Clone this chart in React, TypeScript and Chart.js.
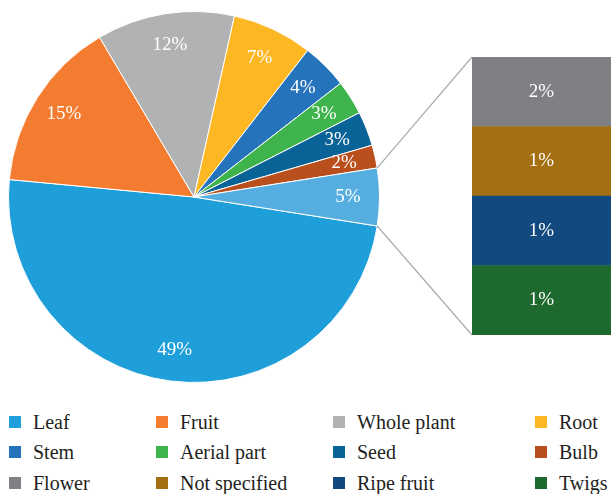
import React, { useEffect, useRef } from "react";
import { Chart, registerables } from "chart.js";

Chart.register(...registerables);

// ---- Data ----
const pieLabels = ["Leaf", "Fruit", "Whole plant", "Root", "Stem", "Aerial part", "Seed", "Bulb", "Other"];
const pieValues = [49, 15, 12, 7, 4, 3, 3, 2, 5];
const pieColors = ["#1f9fd9", "#f47c30", "#b1b2b4", "#fdb723", "#2573bb", "#3fb44c", "#0a6397", "#b84f1c", "#56aee0"];

// Bar of pie (top to bottom)
const barLabels = ["Flower", "Not specified", "Ripe fruit", "Twigs"];
const barValues = [1.25, 1.25, 1.25, 1.25];
const barValueLabels = ["2%", "1%", "1%", "1%"];
const barColors = ["#7f8083", "#a36f10", "#124a80", "#1e6a2e"];

const legendLabels = [
  "Leaf", "Fruit", "Whole plant", "Root",
  "Stem", "Aerial part", "Seed", "Bulb",
  "Flower", "Not specified", "Ripe fruit", "Twigs",
];
const legendColors = [
  "#1f9fd9", "#f47c30", "#b1b2b4", "#fdb723",
  "#2573bb", "#3fb44c", "#0a6397", "#b84f1c",
  "#7f8083", "#a36f10", "#124a80", "#1e6a2e",
];

const FONT = "'Liberation Serif', 'Times New Roman', serif";
const W = 611;
const H = 398;

export default function App() {
  const pieRef = useRef<HTMLCanvasElement | null>(null);
  const barRef = useRef<HTMLCanvasElement | null>(null);

  useEffect(() => {
    if (!pieRef.current || !barRef.current) return;
    const total = pieValues.reduce((a, b) => a + b, 0);
    const otherVal = pieValues[pieValues.length - 1];
    const rotation = 90 + (otherVal / total) * 180;

    const pieLabelPlugin = {
      id: "pieLabels",
      afterDatasetsDraw(chart: any) {
        const ctx = chart.ctx;
        const meta = chart.getDatasetMeta(0);
        ctx.save();
        ctx.font = `19px ${FONT}`;
        ctx.fillStyle = "#ffffff";
        ctx.textAlign = "center";
        ctx.textBaseline = "middle";
        meta.data.forEach((arc: any, i: number) => {
          const p = arc.getProps(["x", "y", "startAngle", "endAngle", "outerRadius"], true);
          const mid = (p.startAngle + p.endAngle) / 2;
          const r = p.outerRadius * 0.83;
          ctx.fillText(`${pieValues[i]}%`, p.x + Math.cos(mid) * r, p.y + Math.sin(mid) * r);
        });
        ctx.restore();
      },
    };

    const pie = new Chart(pieRef.current, {
      type: "pie",
      data: {
        labels: pieLabels,
        datasets: [
          {
            data: pieValues,
            backgroundColor: pieColors,
            borderColor: "#ffffff",
            borderWidth: 1,
          },
        ],
      },
      options: {
        animation: false,
        responsive: false,
        maintainAspectRatio: false,
        rotation,
        layout: { padding: { left: 8, top: 11, right: W - 380, bottom: H - 383 } },
        plugins: { legend: { display: false }, tooltip: { enabled: false } },
      },
      plugins: [pieLabelPlugin],
    });

    const barLabelPlugin = {
      id: "barLabels",
      afterDatasetsDraw(chart: any) {
        const ctx = chart.ctx;
        ctx.save();
        ctx.font = `19px ${FONT}`;
        ctx.fillStyle = "#ffffff";
        ctx.textAlign = "center";
        ctx.textBaseline = "middle";
        chart.data.datasets.forEach((ds: any, di: number) => {
          const bar = chart.getDatasetMeta(di).data[0];
          const p = bar.getProps(["x", "y", "base"], true);
          ctx.fillText(ds.valueLabel, p.x, (p.y + p.base) / 2);
        });
        ctx.restore();
      },
    };

    const connectorPlugin = {
      id: "connectors",
      afterDatasetsDraw(chart: any) {
        const ctx = chart.ctx;
        const pm = pie.getDatasetMeta(0);
        const arc: any = pm.data[pm.data.length - 1];
        const a = arc.getProps(["x", "y", "startAngle", "endAngle", "outerRadius"], true);
        const n = chart.data.datasets.length;
        const bottomBar: any = chart.getDatasetMeta(0).data[0];
        const topBar: any = chart.getDatasetMeta(n - 1).data[0];
        const tb = topBar.getProps(["x", "y", "width"], true);
        const bb = bottomBar.getProps(["x", "base", "width"], true);
        ctx.save();
        ctx.strokeStyle = "#ababab";
        ctx.lineWidth = 1.2;
        ctx.beginPath();
        ctx.moveTo(a.x + Math.cos(a.startAngle) * a.outerRadius, a.y + Math.sin(a.startAngle) * a.outerRadius);
        ctx.lineTo(tb.x - tb.width / 2, tb.y);
        ctx.moveTo(a.x + Math.cos(a.endAngle) * a.outerRadius, a.y + Math.sin(a.endAngle) * a.outerRadius);
        ctx.lineTo(bb.x - bb.width / 2, bb.base);
        ctx.stroke();
        ctx.restore();
      },
    };

    const barDatasets = barLabels
      .map((label, i) => ({
        label,
        data: [barValues[i]],
        backgroundColor: barColors[i],
        borderWidth: 0,
        barPercentage: 1,
        categoryPercentage: 1,
        valueLabel: barValueLabels[i],
      }))
      .reverse();
    const barTotal = barValues.reduce((a, b) => a + b, 0);

    const bar = new Chart(barRef.current, {
      type: "bar",
      data: { labels: ["Other"], datasets: barDatasets as any },
      options: {
        animation: false,
        responsive: false,
        maintainAspectRatio: false,
        layout: { padding: { left: 472, top: 57, right: 0, bottom: H - 335 } },
        scales: {
          x: { stacked: true, display: false },
          y: { stacked: true, display: false, min: 0, max: barTotal },
        },
        plugins: { legend: { display: false }, tooltip: { enabled: false } },
      },
      plugins: [barLabelPlugin, connectorPlugin],
    });

    return () => {
      bar.destroy();
      pie.destroy();
    };
  }, []);

  const colX = [9, 156, 333, 535];
  const rowY = [421.5, 452, 482.5];

  return (
    <div style={{ position: "relative", width: W, height: 494, fontFamily: FONT, overflow: "hidden" }}>
      <style>{`html,body{margin:0;padding:0;overflow:hidden;}`}</style>
      <canvas ref={pieRef} width={W} height={H} style={{ position: "absolute", left: 0, top: 0 }} />
      <canvas ref={barRef} width={W} height={H} style={{ position: "absolute", left: 0, top: 0 }} />
      {legendLabels.map((label, i) => {
        const c = i % 4;
        const r = Math.floor(i / 4);
        return (
          <div
            key={label}
            style={{
              position: "absolute",
              left: colX[c],
              top: rowY[r] - 10,
              height: 20,
              lineHeight: "20px",
              display: "flex",
              alignItems: "center",
              whiteSpace: "nowrap",
              fontSize: 20,
              color: "#231f20",
            }}
          >
            <span
              style={{
                display: "inline-block",
                width: 12,
                height: 12,
                background: legendColors[i],
                marginRight: 12,
              }}
            />
            <span>{label}</span>
          </div>
        );
      })}
    </div>
  );
}
